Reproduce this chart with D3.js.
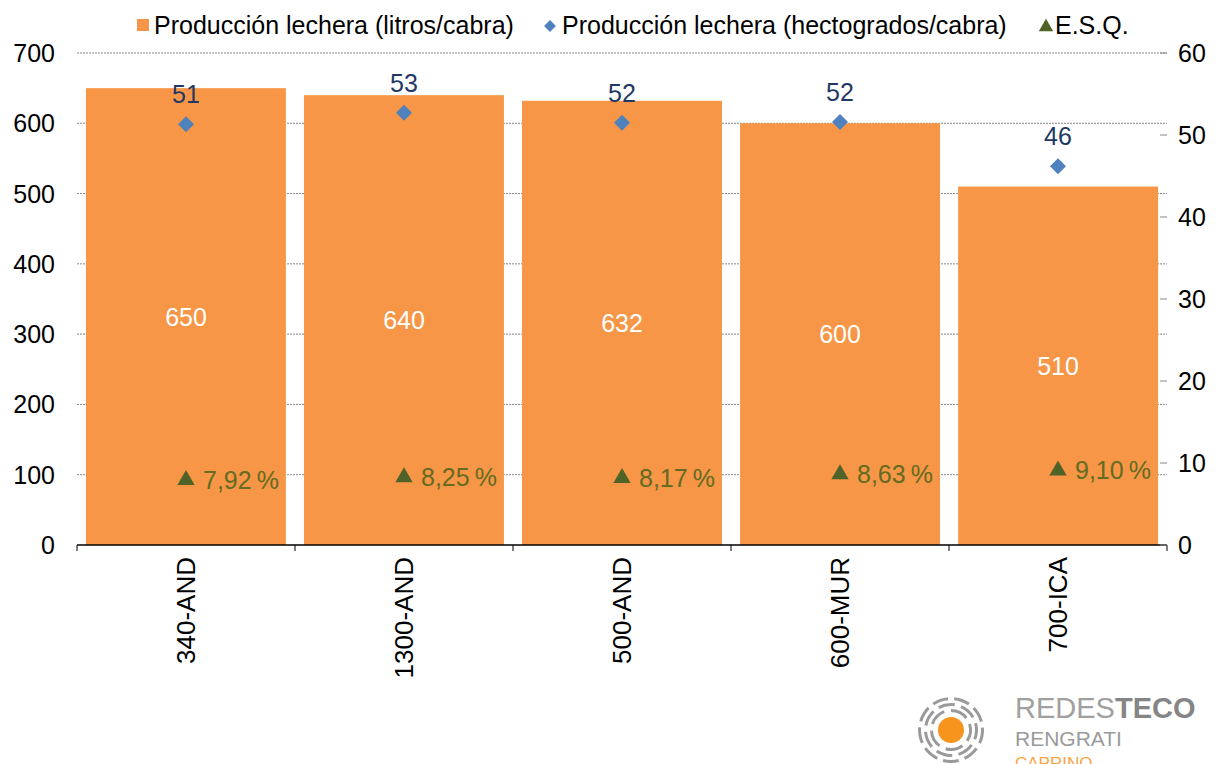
<!DOCTYPE html>
<html>
<head>
    <meta charset="UTF-8">
    <title>Producción lechera</title>
    <style>
        body{ margin:0; background:#fff; }
        text{ font-family:"Liberation Sans", Arial, sans-serif; }
    </style>
</head>
<body>
    <script src="https://cdn.jsdelivr.net/npm/d3@7"></script>
    <script type="text/javascript">
        // datos
        var categories = ["340-AND", "1300-AND", "500-AND", "600-MUR", "700-ICA"];
        var litros = [650, 640, 632, 600, 510];
        var hecto = [51.3, 52.7, 51.5, 51.6, 46.2];
        var esq = [7.92, 8.25, 8.17, 8.63, 9.10];
        var leftTicks = [0, 100, 200, 300, 400, 500, 600, 700];
        var rightTicks = [0, 10, 20, 30, 40, 50, 60];

        var width = 1220, height = 764;
        var plotL = 77, plotR = 1167, plotT = 53, plotB = 545;

        var svg = d3.select("body").append("svg")
            .attr("width", width)
            .attr("height", height);

        var x = d3.scaleBand().domain(categories).range([plotL, plotR]).paddingInner(0.083).paddingOuter(0.041);
        var xb = d3.scaleBand().domain(categories).range([plotL, plotR]); // ticks entre categorias
        var yL = d3.scaleLinear().domain([0, 700]).range([plotB, plotT]);
        var yR = d3.scaleLinear().domain([0, 60]).range([plotB, plotT]);
        var cx = c => xb(c) + xb.bandwidth() / 2;

        // lineas de cuadricula
        svg.append("g").selectAll("line").data(leftTicks.slice(1)).join("line")
            .attr("x1", plotL).attr("x2", plotR)
            .attr("y1", d => yL(d)).attr("y2", d => yL(d))
            .attr("stroke", "#888").attr("stroke-width", 1)
            .attr("stroke-dasharray", "2,1");

        // barras
        svg.append("g").selectAll("rect").data(litros).join("rect")
            .attr("x", (d, i) => x(categories[i]))
            .attr("width", x.bandwidth())
            .attr("y", d => yL(d))
            .attr("height", d => plotB - yL(d))
            .attr("fill", "#f79646");

        // etiquetas de barras
        svg.append("g").selectAll("text").data(litros).join("text")
            .attr("x", (d, i) => cx(categories[i]))
            .attr("y", d => (yL(d) + plotB) / 2 + 9)
            .attr("text-anchor", "middle")
            .attr("font-size", 25)
            .attr("fill", "#fff")
            .text(d => d);

        // eje inferior
        var xAxis = svg.append("g").attr("transform", "translate(0," + plotB + ")");
        xAxis.append("line").attr("x1", plotL).attr("x2", plotR).attr("stroke", "#000").attr("stroke-width", 1.3);
        var bounds = categories.map(c => xb(c)).concat([plotR]);
        xAxis.selectAll("line.tk").data(bounds).join("line").attr("class", "tk")
            .attr("x1", d => d).attr("x2", d => d).attr("y1", 0).attr("y2", 6)
            .attr("stroke", "#000");
        xAxis.selectAll("text").data(categories).join("text")
            .attr("transform", d => "translate(" + (cx(d) + 9) + ",12) rotate(-90)")
            .attr("text-anchor", "end")
            .attr("font-size", 26)
            .attr("fill", "#000")
            .text(d => d);

        // eje izquierdo
        svg.append("g").selectAll("text").data(leftTicks).join("text")
            .attr("x", 55).attr("y", d => yL(d) + 9)
            .attr("text-anchor", "end").attr("font-size", 25).attr("fill", "#000")
            .text(d => d);

        // eje derecho
        svg.append("g").selectAll("line").data(rightTicks).join("line")
            .attr("x1", plotR - 7).attr("x2", plotR)
            .attr("y1", d => yR(d)).attr("y2", d => yR(d))
            .attr("stroke", "#888");
        svg.append("g").selectAll("text").data(rightTicks).join("text")
            .attr("x", 1178).attr("y", d => yR(d) + 9)
            .attr("font-size", 25).attr("fill", "#000")
            .text(d => d);

        // rombos
        var diamond = d3.symbol().type(d3.symbolSquare).size(128);
        svg.append("g").selectAll("path").data(hecto).join("path")
            .attr("d", diamond)
            .attr("transform", (d, i) => "translate(" + cx(categories[i]) + "," + yR(d) + ") rotate(45)")
            .attr("fill", "#4f81bd");
        svg.append("g").selectAll("text").data(hecto).join("text")
            .attr("x", (d, i) => cx(categories[i]))
            .attr("y", d => yR(d) - 21)
            .attr("text-anchor", "middle").attr("font-size", 25).attr("fill", "#1f3864")
            .text(d => Math.round(d));

        // triangulos ESQ
        var tri = d3.symbol().type(d3.symbolTriangle).size(130);
        svg.append("g").selectAll("path").data(esq).join("path")
            .attr("d", tri)
            .attr("transform", (d, i) => "translate(" + cx(categories[i]) + "," + yR(d) + ")")
            .attr("fill", "#4f6228");
        svg.append("g").selectAll("text").data(esq).join("text")
            .attr("x", (d, i) => cx(categories[i]) + 17)
            .attr("y", d => yR(d) + 9)
            .attr("font-size", 25).attr("fill", "#646b22")
            .text(d => d.toFixed(2).replace(".", ",") + "\u2009%");

        // leyenda
        var lg = svg.append("g");
        lg.append("rect").attr("x", 137).attr("y", 19).attr("width", 12).attr("height", 12).attr("fill", "#f79646");
        lg.append("text").attr("x", 154).attr("y", 34).attr("font-size", 25).text("Producción lechera (litros/cabra)");
        lg.append("path").attr("d", d3.symbol().type(d3.symbolSquare).size(70))
            .attr("transform", "translate(550,26) rotate(45)").attr("fill", "#4f81bd");
        lg.append("text").attr("x", 562).attr("y", 34).attr("font-size", 25).text("Producción lechera (hectogrados/cabra)");
        lg.append("path").attr("d", d3.symbol().type(d3.symbolTriangle).size(90))
            .attr("transform", "translate(1046,27)").attr("fill", "#4f6228");
        lg.append("text").attr("x", 1055).attr("y", 34).attr("font-size", 25).text("E.S.Q.");

        // logo
        var logo = svg.append("g").attr("transform", "translate(951,730)");
        logo.append("circle").attr("r", 13).attr("fill", "#f7941d");
        [20, 26, 32].forEach(function(r, k){
            var arc = d3.arc().innerRadius(r - 2).outerRadius(r + 1);
            var n = 5 + k * 2;
            for (var a = 0; a < n; a++) {
                var s = a * 2 * Math.PI / n + k * 0.4;
                logo.append("path")
                    .attr("d", arc({startAngle: s, endAngle: s + 2 * Math.PI / n * 0.72}))
                    .attr("fill", "#9a9a9a");
            }
        });
        var lt = svg.append("text").attr("x", 1015).attr("y", 718).attr("font-size", 29).attr("fill", "#a0a0a0");
        lt.append("tspan").attr("font-weight", "300").text("REDES");
        lt.append("tspan").attr("font-weight", "bold").attr("fill", "#858585").text("TECO");
        svg.append("text").attr("x", 1015).attr("y", 746).attr("font-size", 21).attr("fill", "#9a9a9a").text("RENGRATI");
        svg.append("text").attr("x", 1015).attr("y", 769).attr("font-size", 17).attr("fill", "#f7a545").text("CAPRINO");
    </script>
</body>
</html>
